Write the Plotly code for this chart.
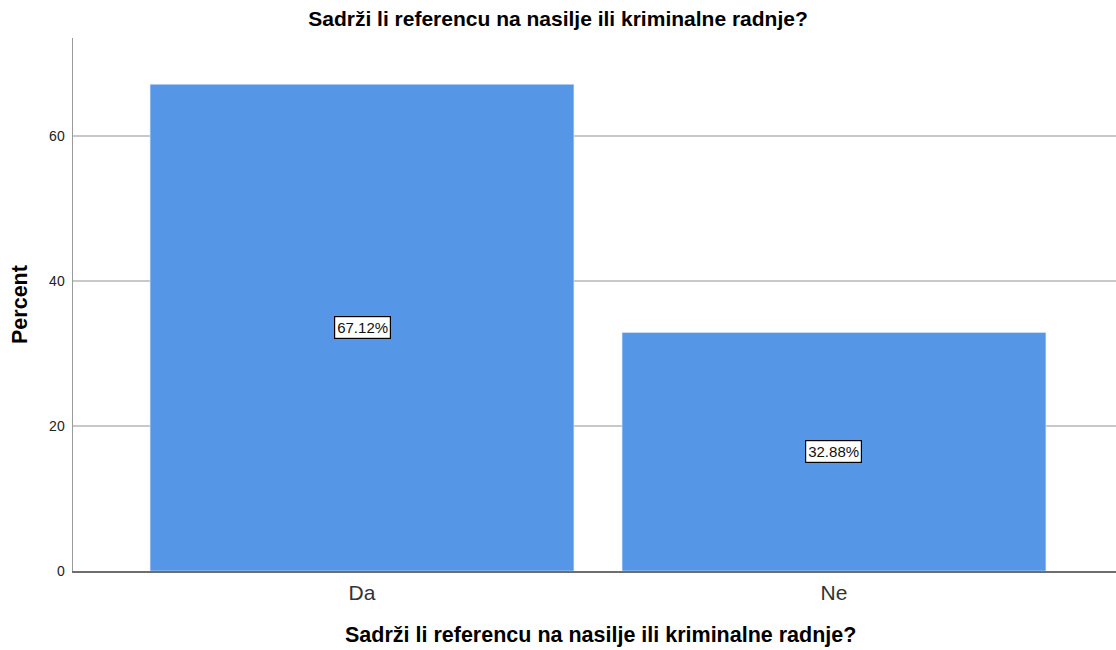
import plotly.graph_objects as go

categories = ["Da", "Ne"]
percent = [67.12, 32.88]
labels = ["67.12%", "32.88%"]
y_ticks = [0, 20, 40, 60]
title_text = "Sadrži li referencu na nasilje ili kriminalne radnje?"
y_title = "Percent"

BAR = "#5596e6"
FONT = "Liberation Sans, Arial, sans-serif"

W, H = 1116, 650

fig = go.Figure()
fig.add_trace(go.Bar(
    x=[0, 1], y=percent, width=0.898,
    marker=dict(color=BAR, line=dict(color="#dbe8f8", width=0.6)),
    hoverinfo="skip", showlegend=False,
))

for i, (v, t) in enumerate(zip(percent, labels)):
    fig.add_annotation(
        x=i, y=v / 2, xref="x", yref="y", text=t, showarrow=False,
        font=dict(family=FONT, size=15, color="#111"),
        bgcolor="white", bordercolor="black", borderwidth=1.2, borderpad=2,
    )

# x axis title
fig.add_annotation(
    x=0.506, xref="x", y=-0.12, yref="paper", text="<b>" + title_text + "</b>",
    showarrow=False, font=dict(family=FONT, size=21.5, color="#000"),
    xanchor="center", yanchor="middle",
)
# y axis title
fig.add_annotation(
    x=-0.0513, xref="paper", y=0.5, yref="paper", text="<b>" + y_title + "</b>",
    showarrow=False, textangle=-90, font=dict(family=FONT, size=21.5, color="#000"),
    xanchor="center", yanchor="middle",
)

fig.update_layout(
    width=W, height=H,
    margin=dict(l=73, r=0, t=38, b=79),
    paper_bgcolor="white", plot_bgcolor="white",
    title=dict(text="<b>" + title_text + "</b>", x=558 / W, xanchor="center",
               y=1 - 19 / H, yanchor="middle",
               font=dict(family=FONT, size=21, color="#000")),
    bargap=0,
    xaxis=dict(
        range=[-0.6123, 1.5975], tickmode="array", tickvals=[0, 1],
        ticktext=categories, showgrid=False, zeroline=False,
        showline=True, linecolor="#6e6e6e", linewidth=1.5,
        ticks="", ticklabelstandoff=2,
        tickfont=dict(family=FONT, size=21, color="#333"),
        fixedrange=True,
    ),
    yaxis=dict(
        range=[0, 73.5], tickmode="array", tickvals=y_ticks,
        showgrid=True, gridcolor="#c8c8c8", gridwidth=1.3, zeroline=False,
        showline=True, linecolor="#9a9a9a", linewidth=1.5, ticks="",
        ticklabelstandoff=4,
        tickfont=dict(family=FONT, size=14, color="#222"),
        fixedrange=True,
    ),
)

fig.write_html(
    "out.html",
    config={"displayModeBar": False, "staticPlot": True},
    post_script="document.body.style.margin='0';document.body.style.overflow='hidden';",
)
